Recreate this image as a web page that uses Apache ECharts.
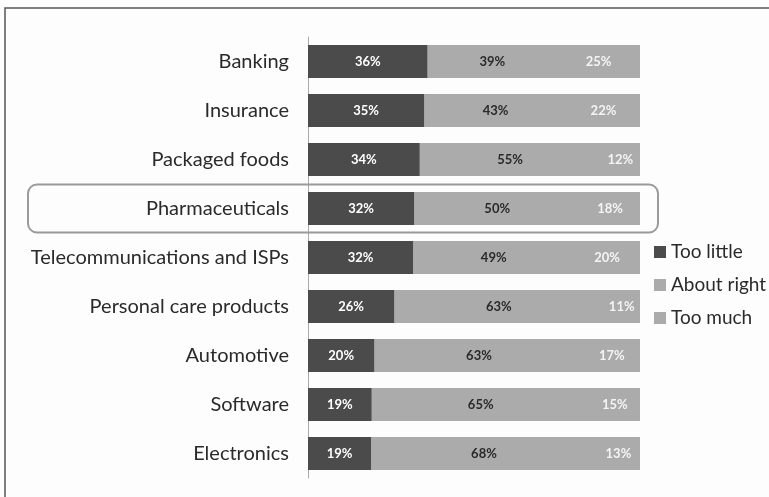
<!DOCTYPE html>
<html>
<head>
<meta charset="utf-8">
<script src="https://cdn.jsdelivr.net/npm/echarts@6/dist/echarts.min.js"></script>
<style>
  html, body { margin: 0; padding: 0; background: #fdfdfd; }
  #chart { width: 769px; height: 497px; }
</style>
</head>
<body>
<div id="chart"></div>
<script>
// Industries, top to bottom
const categories = [
  'Banking', 'Insurance', 'Packaged foods', 'Pharmaceuticals',
  'Telecommunications and ISPs', 'Personal care products',
  'Automotive', 'Software', 'Electronics'
];
// Survey answers, percent of respondents
const tooLittle  = [36, 35, 34, 32, 32, 26, 20, 19, 19];
const aboutRight = [39, 43, 55, 50, 49, 63, 63, 65, 68];
const tooMuch    = [25, 22, 12, 18, 20, 11, 17, 15, 13];
const seriesNames = ['Too little', 'About right', 'Too much'];
const highlighted = 'Pharmaceuticals';

const DARK = '#4b4b4b';
const GREY = '#ababab';
const FONT = 'Lato, "Noto Sans", sans-serif';

// each row is drawn as a 100% stack; labels show the surveyed value
const totals = categories.map((_, i) => tooLittle[i] + aboutRight[i] + tooMuch[i]);
function share(arr) {
  return arr.map((v, i) => ({ value: v / totals[i] * 100, raw: v }));
}

function makeSeries(name, arr, color, labelColor) {
  return {
    name: name,
    type: 'bar',
    stack: 'all',
    barWidth: 33,
    data: share(arr),
    itemStyle: { color: color },
    label: {
      show: true,
      position: 'inside',
      color: labelColor,
      fontFamily: FONT,
      fontWeight: 'bold',
      fontSize: 13,
      formatter: p => p.data.raw + '%'
    },
    emphasis: { disabled: true }
  };
}

const first = makeSeries(seriesNames[0], tooLittle, DARK, '#ffffff');
// a grey track behind each row hides the seam between the two grey segments
first.showBackground = true;
first.backgroundStyle = { color: GREY };

const chart = echarts.init(document.getElementById('chart'));
chart.setOption({
  animation: false,
  backgroundColor: '#fdfdfd',
  grid: { left: 308, top: 37, width: 332, height: 441, containLabel: false },
  legend: {
    orient: 'vertical',
    left: 649,
    top: 237,
    itemWidth: 12,
    itemHeight: 12,
    itemGap: 13,
    icon: 'rect',
    textStyle: { fontFamily: FONT, fontSize: 19, lineHeight: 20, color: '#2a2a2a' },
    data: seriesNames
  },
  xAxis: {
    type: 'value',
    min: 0,
    max: 100,
    show: false
  },
  yAxis: {
    type: 'category',
    inverse: true,
    data: categories,
    axisLine: { show: true, lineStyle: { color: '#aaa', width: 1 } },
    axisTick: { show: false },
    axisLabel: {
      margin: 19,
      fontFamily: FONT,
      fontSize: 20,
      color: '#2a2a2a'
    }
  },
  series: [
    first,
    makeSeries(seriesNames[1], aboutRight, GREY, '#2a2a2a'),
    makeSeries(seriesNames[2], tooMuch, GREY, '#f4f4f4')
  ]
});

// frame around the figure and outline around the highlighted row
const rowY = chart.convertToPixel({ yAxisIndex: 0 }, highlighted);
chart.setOption({
  graphic: [
    {
      type: 'rect',
      shape: { x: 5, y: 8, width: 800, height: 520 },
      style: { fill: 'none', stroke: '#555', lineWidth: 1.5 },
      silent: true
    },
    {
      type: 'rect',
      shape: { x: 28, y: rowY - 24, width: 630, height: 48, r: 9 },
      style: { fill: 'none', stroke: '#9a9a9a', lineWidth: 2 },
      silent: true,
      z: 10
    }
  ]
});
</script>
</body>
</html>
